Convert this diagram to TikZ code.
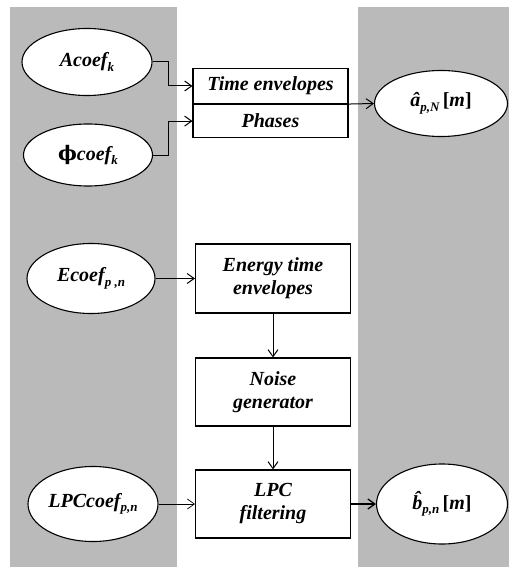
\documentclass[tikz,border=0pt]{standalone}
\usepackage{fontspec}
\setmainfont{Liberation Serif}
\newfontfamily\phifont{DejaVu Serif}
\usetikzlibrary{positioning,arrows.meta,shapes.geometric}

% lowered subscript in text
\newcommand{\sub}[1]{\raisebox{-0.5ex}{\fontsize{13}{13}\selectfont #1}}

\tikzset{
  band/.style={fill=black!27,draw=none},
  coef/.style={ellipse,draw,line width=1.1pt,fill=white,inner sep=0pt},
  block/.style={rectangle,draw,line width=1.1pt,fill=white,inner sep=0pt,
    minimum width=155pt,align=center},
  link/.style={line width=1pt,-{Straight Barb[length=7pt,width=10pt]}}
}

\begin{document}
\begin{tikzpicture}[x=1pt,y=-1pt,font=\bfseries\itshape\fontsize{20}{23}\selectfont]
   \useasboundingbox (0,0) rectangle (509,567);
   \fill[white] (0,0) rectangle (509,567);
   \path[band] (10,7) rectangle (177,567);
   \path[band] (358,7) rectangle (509,567);

   \node[coef,minimum width=130pt,minimum height=67pt] (acoef) at (87,62) {Acoef\sub{k}};
   \node[coef,minimum width=129pt,minimum height=62pt] (phicoef) at (88,155) {{\phifont\upshape ϕ}coef\sub{k}};
   \node[coef,minimum width=128pt,minimum height=70pt] (ecoef) at (91,278.5) {Ecoef\sub{p ,n}};
   \node[coef,minimum width=130pt,minimum height=75pt] (lpccoef) at (93,504) {LPCcoef\sub{p,n}};

   \node[block,minimum height=35pt] (timeenv) at (270.5,86) {Time envelopes};
   \node[block,minimum height=33pt,below=0pt of timeenv] (phases) {Phases};
   \node[block,minimum height=69pt] (energy) at (273,278.5) {Energy time\\envelopes};
   \node[block,minimum height=68pt] (noise) at (273,392) {Noise\\generator};
   \node[block,minimum height=68pt] (lpc) at (273,504) {LPC\\filtering};

   \node[coef,minimum width=133pt,minimum height=66pt] (ahat) at (441,103.5) {\^{a}\sub{p,N}\,{\upshape[}m{\upshape]}};
   \node[coef,minimum width=131pt,minimum height=80pt] (bhat) at (442,504) {\^{b}\sub{p,n}\,{\upshape[}m{\upshape]}};

   \draw[link] (acoef.east) -- ++(16,0) |- (timeenv.west);
   \draw[link] (phicoef.east) -- ++(15,0) |- (phases.west);
   \draw[link] (timeenv.south east) -- (ahat.west);
   \draw[link] (ecoef.east) -- (energy.west);
   \draw[link] (energy.south) -- (noise.north);
   \draw[link] (noise.south) -- (lpc.north);
   \draw[link,line width=0.7pt] (lpccoef.east) -- (lpc.west);
   \draw[link,line width=1.3pt] (lpc.east) -- (bhat.west);
\end{tikzpicture}
\end{document}
